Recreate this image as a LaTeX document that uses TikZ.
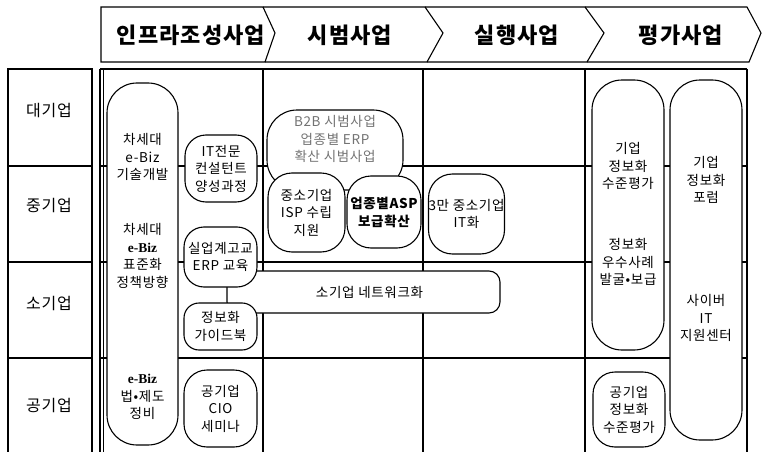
\documentclass[tikz,border=0pt]{standalone}
\usepackage{fontspec}
\setmainfont{Noto Sans CJK KR}[LetterSpace=5]
\newfontfamily\serb{Liberation Serif}
\newcommand\ebizb{{\serb\bfseries e-Biz}}
\begin{document}
\begin{tikzpicture}[x=1pt,y=-1pt,
  box/.style={draw, line width=1.1pt, fill=white, align=center, inner sep=0pt,
    font=\fontsize{13.5}{17.5}\selectfont},
  txt/.style={align=center, inner sep=0pt, font=\fontsize{13.5}{17.5}\selectfont},
  hdr/.style={line width=1.1pt, line join=miter},
  hdrtxt/.style={inner sep=0pt, font=\fontsize{22}{24}\selectfont\bfseries},
  lbl/.style={inner sep=0pt, font=\fontsize{16}{18}\selectfont},
  cell/.style={line width=1.1pt},
  rowline/.style={line width=1.7pt},
  thin/.style={line width=1.1pt},
  thick/.style={line width=2.6pt}
]
\useasboundingbox (0,0) rectangle (763,452);
\fill[white] (0,0) rectangle (763,452);

% header chevrons
\draw[hdr] (101,7) -- (263,7) -- (275,33) -- (265,62) -- (101,62) -- cycle;
\draw[hdr] (263,7) -- (425,7) -- (443,33) -- (427,62) -- (265,62);
\draw[hdr] (425,7) -- (585,7) -- (604,33) -- (587,62) -- (427,62);
\draw[hdr] (585,7) -- (747,7) -- (761,33) -- (749,62) -- (587,62);
\node[hdrtxt] (h1) at (191,35) {인프라조성사업};
\node[hdrtxt] (h2) at (350,35) {시범사업};
\node[hdrtxt] (h3) at (517,35) {실행사업};
\node[hdrtxt] (h4) at (681,35) {평가사업};

% row label cells
\draw[cell] (8,69) rectangle (92,166);
\draw[cell] (8,166) rectangle (92,262);
\draw[cell] (8,262) rectangle (92,358);
\draw[cell] (8,358) -- (8,452) (92,358) -- (92,452) (8,358) -- (92,358);
\node[lbl] (r1) at (49,111) {대기업};
\node[lbl] (r2) at (49,206) {중기업};
\node[lbl] (r3) at (49,304) {소기업};
\node[lbl] (r4) at (49,406) {공기업};

% grid
\draw[thin] (100,69) -- (747,69);
\draw[thin] (100,69) -- (100,452);
\draw[thin] (103.5,69) -- (103.5,452);
\draw[thin] (747,69) -- (747,452);
\draw[thin] (263,69) -- (263,452);
\draw[thick] (423,69) -- (423,452);
\draw[thick] (585,69) -- (585,452);
\foreach \yy in {166,262,358} \draw[rowline] (100,\yy) -- (747,\yy);

% column 1
\node[box, rounded corners=30pt, minimum width=71pt, minimum height=362pt] (ebiz) at (142.5,264) {};
\node[txt] (eb1) at (142.5,157) {차세대\\e-Biz\\기술개발};
\node[txt] (eb2) at (142.5,256) {차세대\\\ebizb\\표준화\\정책방향};
\node[txt] (eb3) at (142.5,397) {\ebizb\\법•제도\\정비};
\node[box, rounded corners=21pt, minimum width=72pt, minimum height=67pt] (itpro) at (221,168.5) {IT전문\\컨설턴트\\양성과정};
\node[box, rounded corners=11pt, minimum width=273pt, minimum height=42pt] (net) at (363.5,292) {\hspace{12pt}소기업 네트워크화};
\node[box, rounded corners=20pt, minimum width=73pt, minimum height=60pt] (silup) at (220.5,257) {실업계고교\\ERP 교육};
\node[box, rounded corners=15pt, minimum width=73pt, minimum height=47pt] (guide) at (220.5,326.5) {정보화\\가이드북};
\node[box, rounded corners=23pt, minimum width=73pt, minimum height=77pt] (cio) at (220.5,408.5) {공기업\\CIO\\세미나};

% column 2
\node[box, rounded corners=30pt, minimum width=136pt, minimum height=80pt] (b2b) at (335,150) {};
\node[txt, text=black!55] (b2bt) at (335,139) {B2B 시범사업\\업종별 ERP\\확산 시범사업};
\node[box, rounded corners=24pt, minimum width=77pt, minimum height=79pt] (isp) at (306.5,212.5) {중소기업\\ISP 수립\\지원};
\node[box, rounded corners=24pt, minimum width=74pt, minimum height=72pt, font=\fontsize{13.5}{18}\selectfont\bfseries] (asp) at (384,212) {업종별ASP\\보급확산};

% column 3
\node[box, rounded corners=24pt, minimum width=71pt, minimum height=80pt] (it3) at (466.5,214) {3만 중소기업\\IT화};

% column 4
\node[box, rounded corners=30pt, minimum width=72pt, minimum height=270pt] (ev1) at (628,215) {};
\node[txt] (ev1a) at (628,166) {기업\\정보화\\수준평가};
\node[txt] (ev1b) at (628,262) {정보화\\우수사례\\발굴•보급};
\node[box, rounded corners=30pt, minimum width=72pt, minimum height=360pt] (ev2) at (706,260) {};
\node[txt] (ev2a) at (706,180) {기업\\정보화\\포럼};
\node[txt] (ev2b) at (706,318) {사이버\\IT\\지원센터};
\node[box, rounded corners=22pt, minimum width=72pt, minimum height=75pt] (ev3) at (629,409.5) {공기업\\정보화\\수준평가};
\end{tikzpicture}
\end{document}
